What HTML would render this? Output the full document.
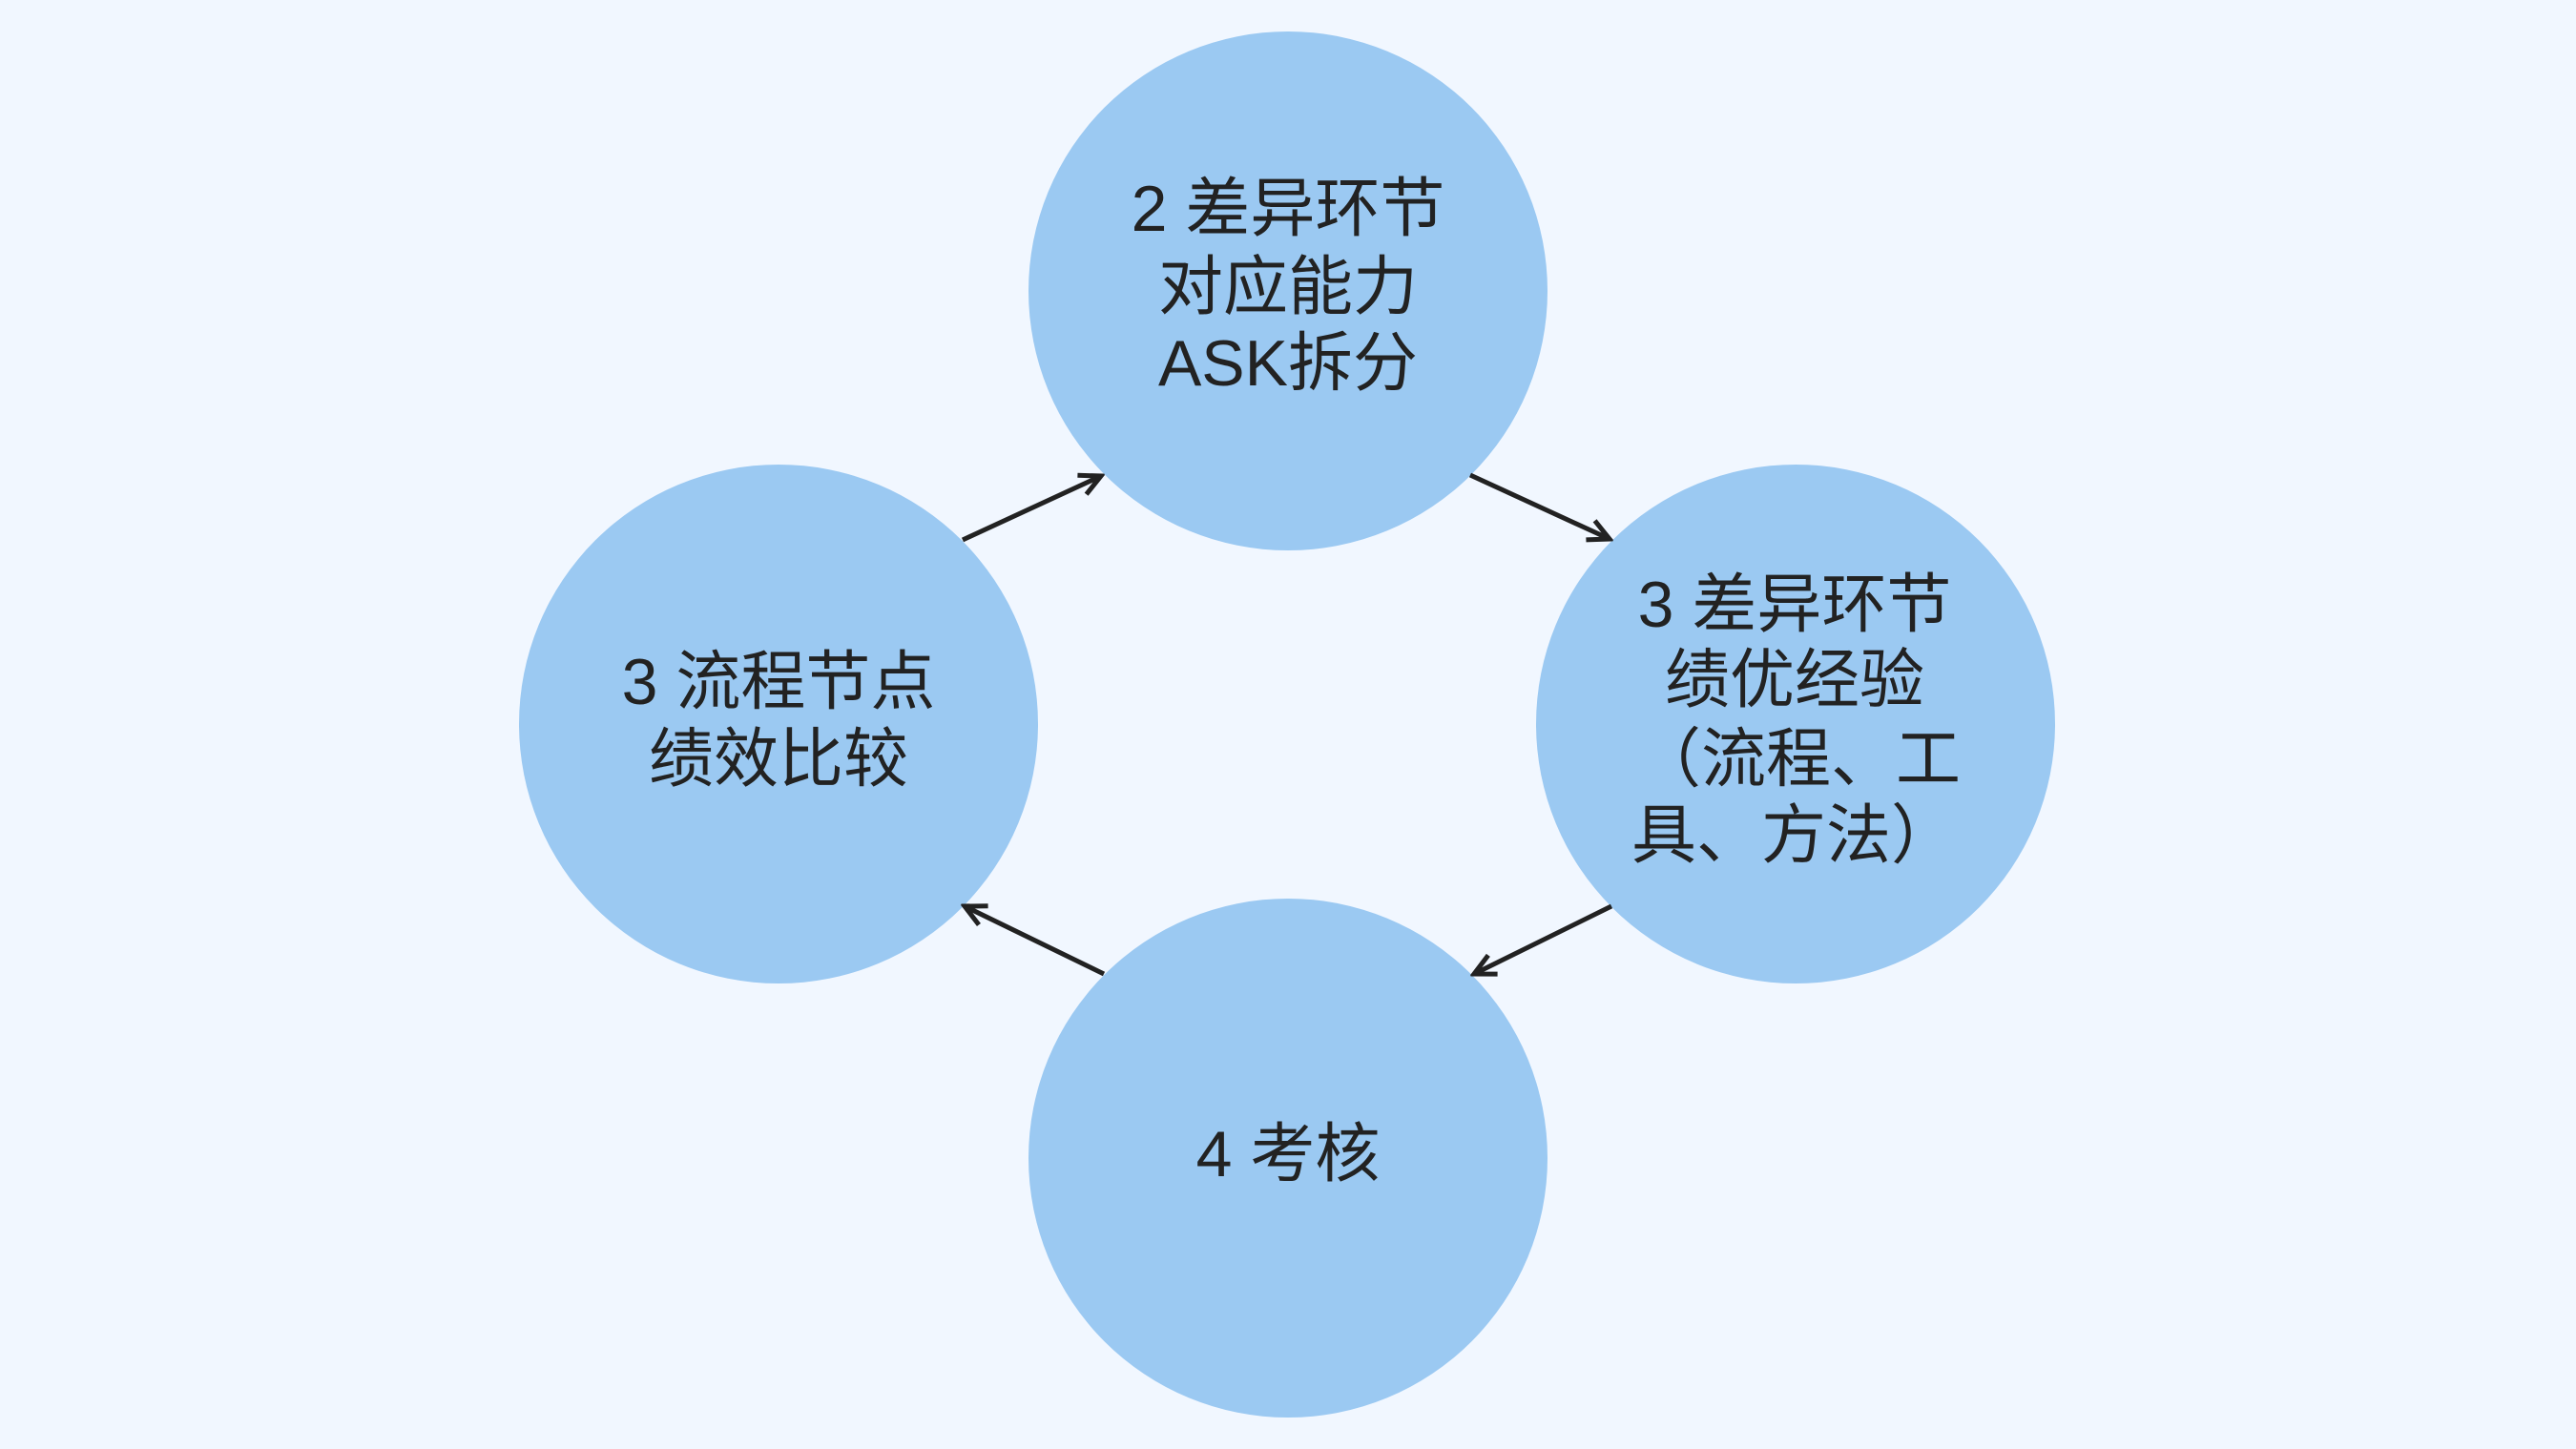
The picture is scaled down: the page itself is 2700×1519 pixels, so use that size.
<!DOCTYPE html>
<html><head><meta charset="utf-8"><style>
html,body{margin:0;padding:0;background:#f1f7ff;}
svg{display:block}
text{font-family:"Liberation Sans","Noto Sans CJK SC",sans-serif;font-size:68px;fill:#222;text-anchor:middle;dominant-baseline:central}
</style></head><body>
<svg width="2700" height="1519" viewBox="0 0 2700 1519">
<defs>
<marker id="b" markerWidth="30" markerHeight="30" refX="26" refY="15" orient="auto" markerUnits="userSpaceOnUse"><path d="M4,4 L26,15 L4,26" fill="none" stroke="#222" stroke-width="5"/></marker></defs>
<rect width="2700" height="1519" fill="#f1f7ff"/>
<circle cx="1350" cy="305" r="272" fill="#9bc9f2"/>
<circle cx="816" cy="759" r="272" fill="#9bc9f2"/>
<circle cx="1882" cy="759" r="272" fill="#9bc9f2"/>
<circle cx="1350" cy="1214" r="272" fill="#9bc9f2"/>
<g stroke="#222" stroke-width="5" fill="none">
<line x1="1009" y1="566" x2="1154" y2="499" marker-end="url(#b)"/>
<line x1="1541" y1="498" x2="1687" y2="565" marker-end="url(#b)"/>
<line x1="1689" y1="950" x2="1545" y2="1021" marker-end="url(#b)"/>
<line x1="1157" y1="1021" x2="1011" y2="950" marker-end="url(#b)"/>
</g>
<text x="1350" y="219">2 差异环节</text>
<text x="1350" y="301">对应能力</text>
<text x="1350" y="381">ASK拆分</text>
<text x="816" y="715">3 流程节点</text>
<text x="816" y="796">绩效比较</text>
<text x="1881" y="634">3 差异环节</text>
<text x="1881" y="713">绩优经验</text>
<text x="1885" y="796">（流程、工</text>
<text x="1880" y="876">具、方法）</text>
<text x="1350" y="1210">4 考核</text>
</svg>
</body></html>
